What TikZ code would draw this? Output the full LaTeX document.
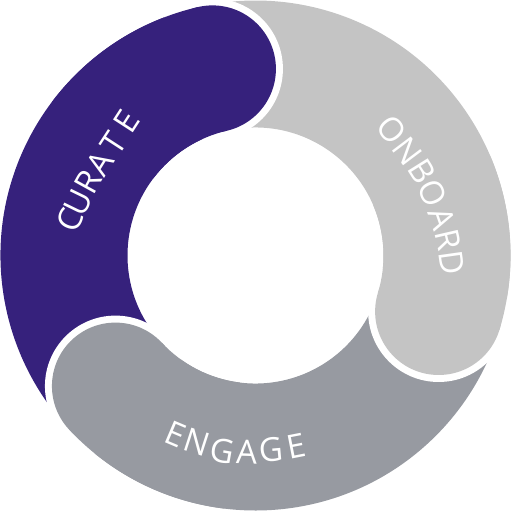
\documentclass[tikz,border=0pt]{standalone}
\usepackage{fontspec}
\setmainfont{Open Sans}
\definecolor{curatecol}{RGB}{54,33,124}
\definecolor{onboardcol}{RGB}{196,196,196}
\definecolor{engagecol}{RGB}{151,154,161}
\newcommand\ringsec[3]{\fill[#1] (#2:255) arc[start angle=#2, end angle=#3, radius=255] -- (#3:128) arc[start angle=#3, end angle=#2, radius=128] -- cycle;}
\newcommand\headcap[2]{%
  \fill[white] (#2:191.5) circle[radius=70.5];
  \pgfmathsetmacro\hend{#2+40}
  \ringsec{#1}{#2}{\hend}
  \fill[#1] (#2:191.5) circle[radius=63.5];}
\begin{document}
\begin{tikzpicture}[x=1pt,y=1pt,
  lbl/.style={text=white, font=\fontsize{33}{33}\selectfont, inner sep=0pt, anchor=center}]
\useasboundingbox (-255.5,-255.5) rectangle (255.5,255.5);
% bodies
\ringsec{curatecol}{103}{223}
\ringsec{onboardcol}{-17}{103}
\ringsec{engagecol}{223}{343}
% heads with white outline
\headcap{curatecol}{103}
\headcap{onboardcol}{-17}
\headcap{engagecol}{223}
% CURATE
\node[lbl, rotate=66] (c1) at (-185.5,35.5) {C};
\node[lbl, rotate=64] (c2) at (-177.2,53.2) {U};
\node[lbl, rotate=61] (c3) at (-167.2,73.2) {R};
\node[lbl, rotate=58] (c4) at (-155.5,92.2) {A};
\node[lbl, rotate=57] (c5) at (-142.2,112.2) {T};
\node[lbl, rotate=57] (c6) at (-128.8,133.8) {E};
% ONBOARD
\node[lbl, rotate=-50] (o1) at (136.2,125.5) {O};
\node[lbl, rotate=-53] (o2) at (151.6,104.3) {N};
\node[lbl, rotate=-58] (o3) at (166.6,84.0) {B};
\node[lbl, rotate=-65] (o4) at (177.0,62.0) {O};
\node[lbl, rotate=-71] (o5) at (186.5,36.5) {A};
\node[lbl, rotate=-77] (o6) at (192.8,15.5) {R};
\node[lbl, rotate=-82] (o7) at (196.2,-6.8) {D};
% ENGAGE
\node[lbl, rotate=-23] (e1) at (-79.8,-178.5) {E};
\node[lbl, rotate=-18] (e2) at (-58.2,-186.8) {N};
\node[lbl, rotate=-10] (e3) at (-33.2,-195.2) {G};
\node[lbl, rotate=-2] (e4) at (-8.8,-196.2) {A};
\node[lbl, rotate=5] (e5) at (15.2,-194.5) {G};
\node[lbl, rotate=11] (e6) at (41.2,-190.2) {E};
\end{tikzpicture}
\end{document}
